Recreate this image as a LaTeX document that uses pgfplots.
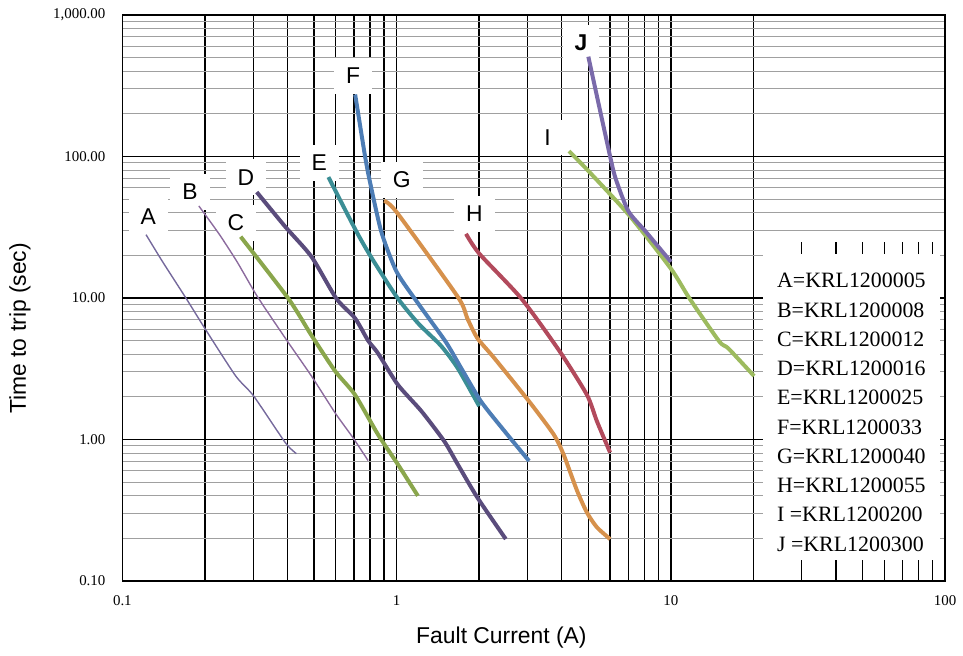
\documentclass[border=0pt]{standalone}
\usepackage{pgfplots}
\pgfplotsset{compat=1.18}
\usepackage{fontspec}
\setmainfont{Liberation Serif}
\newfontfamily\arial{Liberation Sans}

\definecolor{cA}{HTML}{75699C}
\definecolor{cB}{HTML}{8C6B9E}
\definecolor{cC}{HTML}{8AA64C}
\definecolor{cD}{HTML}{5A4C7C}
\definecolor{cE}{HTML}{3B8E95}
\definecolor{cF}{HTML}{4D7DB5}
\definecolor{cG}{HTML}{D6914C}
\definecolor{cH}{HTML}{B24A5C}
\definecolor{cI}{HTML}{9DBB5F}
\definecolor{cJ}{HTML}{7A6AAA}
\definecolor{gridgray}{HTML}{A0A0A0}

\begin{document}
\begin{tikzpicture}
% page frame (1px = 0.5pt)
\path (-61.5pt,-36pt) rectangle (420pt,292pt);
\begin{axis}[
    xmode=log, ymode=log,
    scale only axis,
    width=413.5pt, height=284.5pt,
    xmin=0.1, xmax=100, ymin=0.1, ymax=1000,
    xtick={0.1,1,10,100},
    xticklabels={0.1,1,10,100},
    ytick={0.1,1,10,100,1000},
    yticklabels={0.10,1.00,10.00,100.00,{1,000.00}},
    minor xtick={0.2,0.3,0.4,0.5,0.6,0.7,0.8,0.9,2,3,4,5,6,7,8,9,20},
    minor ytick={0.2,0.3,0.4,0.5,0.6,0.7,0.8,0.9,2,3,4,5,6,7,8,9,
                 20,30,40,50,60,70,80,90,200,300,400,500,600,700,800,900},
    grid=both,
    major grid style={black, line width=0.7pt},
    minor x grid style={black, line width=0.7pt},
    minor y grid style={gridgray, line width=0.5pt},
    major tick length=0pt, minor tick length=0pt,
    axis line style={black, line width=0.8pt},
    tick label style={font=\fontsize{7.5}{8}\selectfont},
    yticklabel style={xshift=-5pt},
    xticklabel style={yshift=-4pt},
]
% short vertical lines 30..90 (rest hidden by the legend box)
\foreach \v in {30,40,50,60,70,80,90}{
  \edef\tmp{\noexpand\draw[black, line width=0.7pt] (axis cs:\v,0.1) -- (axis cs:\v,24.9);}
  \tmp
}
% legend box
\fill[white] (rel axis cs:0.779,0.0369) rectangle (rel axis cs:0.994,0.578);
\node[anchor=center, align=left, inner sep=0pt,
      font=\fontsize{11}{14.7}\selectfont] at (rel axis cs:0.886,0.298)
  {A=KRL1200005\\B=KRL1200008\\C=KRL1200012\\D=KRL1200016\\E=KRL1200025\\
   F=KRL1200033\\G=KRL1200040\\H=KRL1200055\\I =KRL1200200\\J =KRL1200300};

% curve labels
\tikzset{lab/.style={fill=white, inner xsep=6pt, inner ysep=5pt, font=\arial\fontsize{11.5}{12}\selectfont}}
\node[lab] at (axis cs:0.1243,37.4) {A};
\node[lab] at (axis cs:0.1765,56.1) {B};
\node[lab] at (axis cs:0.2592,33.9) {C};
\node[lab] at (axis cs:0.2818,71.4) {D};
\node[lab] at (axis cs:0.5227,89.7) {E};
\node[lab] at (axis cs:0.6943,372) {F};
\node[lab] at (axis cs:1.045,68.1) {G};
\node[lab] at (axis cs:1.923,39.3) {H};
\node[lab] at (axis cs:3.55,136) {I};
\node[lab, font=\arial\bfseries\fontsize{11.5}{12}\selectfont] at (axis cs:4.70,635) {J};

% A
\addplot[cA, line width=0.7pt, smooth, tension=0.4] coordinates {
  (0.122,28) (0.140,18.1) (0.171,9.9) (0.202,5.9) (0.259,2.81)
  (0.301,2.03) (0.393,0.949) (0.431,0.795)};
% B
\addplot[cB, line width=0.7pt, smooth, tension=0.4] coordinates {
  (0.190,44.7) (0.225,28.4) (0.262,18) (0.31,10.3) (0.393,5.19)
  (0.489,2.81) (0.597,1.54) (0.693,1.03) (0.787,0.71)};
% C
\addplot[cC, line width=2pt, smooth, tension=0.4] coordinates {
  (0.270,27.1) (0.403,9.9) (0.489,5.45) (0.597,3.04) (0.705,2.07)
  (0.855,1.085) (1.01,0.668) (1.195,0.40)};
% D
\addplot[cD, line width=2pt, smooth, tension=0.4] coordinates {
  (0.309,56) (0.393,31.8) (0.489,19.6) (0.603,9.9) (0.705,7.2)
  (0.787,5.0) (0.855,4.07) (1.01,2.44) (1.23,1.59) (1.49,0.975)
  (1.67,0.668) (1.97,0.389) (2.5,0.198)};
% E
\addplot[cE, line width=2pt, smooth, tension=0.4] coordinates {
  (0.564,71.5) (0.705,30.8) (0.80,20.0) (1.0,10.2) (1.2,6.6)
  (1.45,4.6) (1.67,3.19) (2.0,1.72)};
% F
\addplot[cF, line width=2pt, smooth, tension=0.4] coordinates {
  (0.706,274) (0.767,100.5) (0.80,65.6) (0.88,29.2) (1.0,15.3)
  (1.2,9.1) (1.51,4.9) (1.72,3.19) (2.03,1.86) (2.47,1.15) (3.04,0.705)};
% G
\addplot[cG, line width=2pt, smooth, tension=0.4] coordinates {
  (0.90,48.5) (1.0,40.4) (1.67,10.2) (1.81,7.18) (1.97,5.2)
  (2.27,3.76) (3.04,1.86) (3.74,1.085) (4.06,0.785) (4.55,0.434)
  (4.94,0.305) (5.37,0.24) (6.0,0.198)};
% H
\addplot[cH, line width=2pt, smooth, tension=0.4] coordinates {
  (1.79,28.4) (2.0,20.6) (2.85,9.9) (3.93,4.2) (4.94,2.07)
  (5.37,1.35) (6.0,0.81)};
% I
\addplot[cI, line width=2pt, smooth, tension=0.4] coordinates {
  (4.25,109) (4.94,81) (7.08,38) (10,16.1) (11.7,9.9)
  (15.0,4.94) (16.2,4.4) (20.1,2.81)};
% J
\addplot[cJ, line width=2pt, smooth, tension=0.4] coordinates {
  (5.0,507) (6.0,100.5) (6.3,69) (7.0,41) (8.1,29.4) (10,18)};
\end{axis}
\node[font=\arial\fontsize{11.5}{12}\selectfont, rotate=90] at (-51.5pt,127pt) {Time to trip (sec)};
\node[font=\arial\fontsize{11.5}{12}\selectfont] at (190.5pt,-28.5pt) {Fault Current (A)};
\end{tikzpicture}
\end{document}
